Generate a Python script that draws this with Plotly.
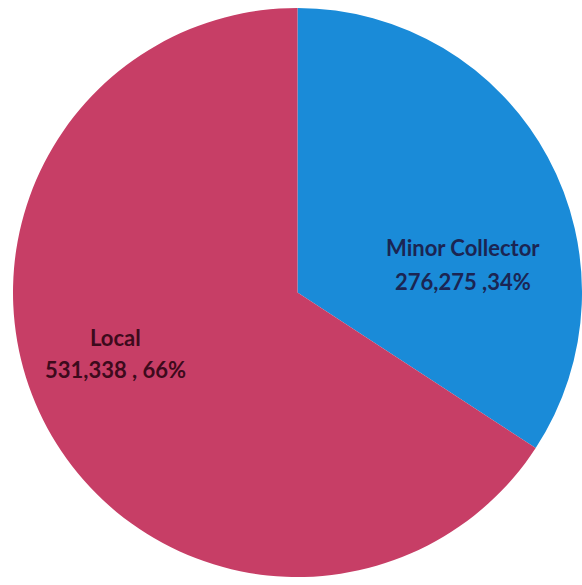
import plotly.graph_objects as go

labels = ["Minor Collector", "Local"]
values = [276275, 531338]
pct_text = ["34%", "66%"]
colors = ["#1a8bd8", "#c73e66"]
text_colors = ["#1b2553", "#3d0a1c"]

W, H = 582, 585
fig = go.Figure(go.Pie(
    labels=labels,
    values=values,
    sort=False,
    direction="clockwise",
    rotation=0,
    textinfo="none",
    hoverinfo="label+value+percent",
    marker=dict(colors=colors, line=dict(width=0)),
    domain=dict(x=[13 / W, 1.0], y=[0.0, 1.0]),
    showlegend=False,
))

line1 = [labels[0], labels[1]]
line2 = [f"{values[0]:,} ,{pct_text[0]}", f"{values[1]:,} , {pct_text[1]}"]
# (x center px, line1 y px, line2 y px)
pos = [(463, 247, 281), (115, 337, 369)]
for a, b, (x, y1, y2), c in zip(line1, line2, pos, text_colors):
    for t, y in ((a, y1), (b, y2)):
        fig.add_annotation(x=x / W, y=1 - y / H, xref="paper", yref="paper", text=t,
                           showarrow=False, align="center", xanchor="center", yanchor="middle",
                           font=dict(family="Lato, Open Sans, sans-serif", size=22, color=c,
                                     weight="bold"))

fig.update_layout(
    width=W, height=H,
    margin=dict(l=0, r=0, t=0, b=0),
    paper_bgcolor="white", plot_bgcolor="white",
)
fig.write_html("out.html", config={"displayModeBar": False},
               post_script="document.body.style.margin='0';")
